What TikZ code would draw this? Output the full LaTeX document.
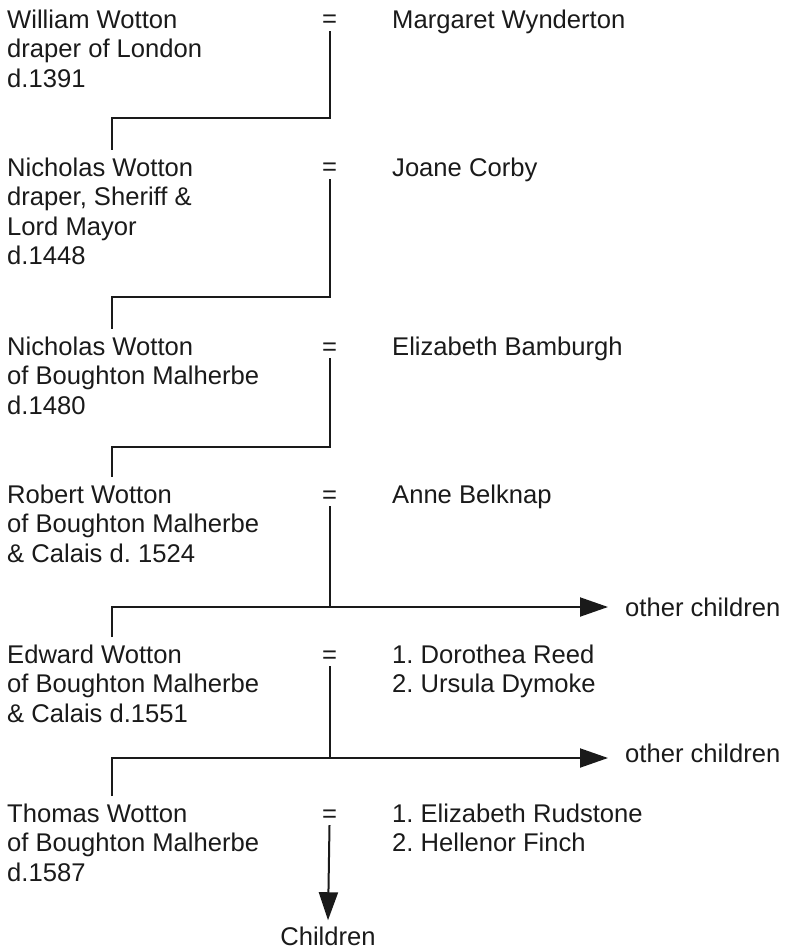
\documentclass[tikz,border=0pt]{standalone}
\usepackage{fontspec}
\setmainfont{Liberation Sans}
\usetikzlibrary{arrows.meta}
\definecolor{ink}{HTML}{1A1A1A}
\newcommand\firstln{\rule{0pt}{20pt}}
\frenchspacing
\begin{document}
\begin{tikzpicture}[x=1pt,y=-1pt,
  every node/.style={font=\fontsize{25.6}{29.5}\selectfont, text=ink},
  person/.style={anchor=north west, align=left, inner xsep=0pt, inner ysep=6pt},
  eqsign/.style={anchor=base, inner xsep=0pt, inner ysep=3pt},
  link/.style={draw=ink, line width=2pt},
  arr/.style={link, -{Triangle[length=28pt,width=19pt]}},
  lbl/.style={anchor=base west, inner xsep=17pt, inner ysep=0pt}]
\useasboundingbox (0,0) rectangle (784,949);

% generation 1
\node[person] (p1) at (7,2) {\firstln William Wotton\\draper of London\\d.1391};
\node[eqsign] (e1) at (329.5,28) {=};
\node[person] (w1) at (392,2) {\firstln Margaret Wynderton};
% generation 2
\node[person] (p2) at (7,150) {\firstln Nicholas Wotton\\draper, Sheriff \&\\Lord Mayor\\d.1448};
\node[eqsign] (e2) at (329.5,176) {=};
\node[person] (w2) at (392,150) {\firstln Joane Corby};
% generation 3
\node[person] (p3) at (7,329) {\firstln Nicholas Wotton\\of Boughton Malherbe\\d.1480};
\node[eqsign] (e3) at (329.5,355) {=};
\node[person] (w3) at (392,329) {\firstln Elizabeth Bamburgh};
% generation 4
\node[person] (p4) at (7,477) {\firstln Robert Wotton\\of Boughton Malherbe\\\& Calais d. 1524};
\node[eqsign] (e4) at (329.5,503) {=};
\node[person] (w4) at (392,477) {\firstln Anne Belknap};
% generation 5
\node[person] (p5) at (7,637) {\firstln Edward Wotton\\of Boughton Malherbe\\\& Calais d.1551};
\node[eqsign] (e5) at (329.5,663) {=};
\node[person] (w5) at (392,637) {\firstln 1. Dorothea Reed\\2. Ursula Dymoke};
% generation 6
\node[person] (p6) at (7,796) {\firstln Thomas Wotton\\of Boughton Malherbe\\d.1587};
\node[eqsign] (e6) at (329.5,822) {=};
\node[person] (w6) at (392,796) {\firstln 1. Elizabeth Rudstone\\2. Hellenor Finch};

% other labels
\node[lbl] (oc1) at (608,616) {other children};
\node[lbl] (oc2) at (608,762) {other children};
\node[anchor=base, inner ysep=6pt] (ch) at (328,945) {Children};

% junctions
\coordinate (j1) at (112,118);
\coordinate (j2) at (112,297);
\coordinate (j3) at (112,447);
\coordinate (j4) at (112,607);
\coordinate (j5) at (112,758);

% connectors
\draw[link] (e1.south) |- (j1) -- (j1 |- p2.north);
\draw[link] (e2.south) |- (j2) -- (j2 |- p3.north);
\draw[link] (e3.south) |- (j3) -- (j3 |- p4.north);
\draw[link] (e4.south) -- (e4.south |- j4);
\draw[arr] (j4 |- p5.north) -- (j4) -- (j4 -| oc1.west);
\draw[link] (e5.south) -- (e5.south |- j5);
\draw[arr] (j5 |- p6.north) -- (j5) -- (j5 -| oc2.west);
\draw[arr] (e6.south) -- (ch.north);
\end{tikzpicture}
\end{document}
